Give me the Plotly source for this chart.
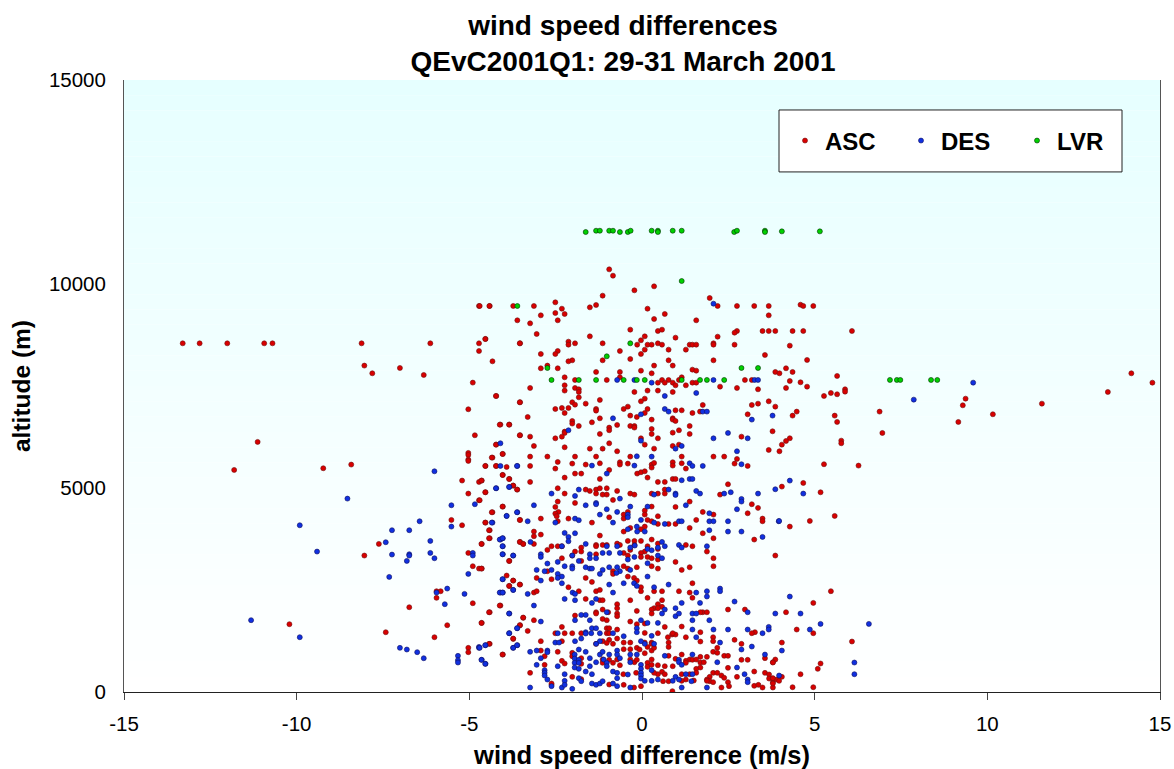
import plotly.graph_objects as go

title_lines = ["wind speed differences", "QEvC2001Q1: 29-31 March 2001"]
x_label = "wind speed difference (m/s)"
y_label = "altitude (m)"
x_ticks = [-15, -10, -5, 0, 5, 10, 15]
x_tick_text = ["-15", "-10", "-5", "0", "5", "10", "15"]
y_ticks = [0, 5000, 10000, 15000]
y_tick_text = ["0", "5000", "10000", "15000"]

lvr_x = [-3.61, -1.63, -1.33, -1.22, -0.95, -0.84, -0.64, -0.41, -0.33, 0.28, 0.46, 0.46, 0.89, 1.15, 2.67, 2.75, 3.56, 3.56, 4.05, 5.15,
         1.15, -0.34, -1.02, 2.88, 3.36, -2.74, -2.62, -1.83, -1.33, -0.53, -0.15, 0.08, 1.15, 1.68, 1.88, 2.38, 7.18, 7.38, 7.48, 8.37, 8.55]
lvr_y = [9461, 11274, 11306, 11306, 11306, 11306, 11274, 11274, 11306, 11306, 11306, 11274, 11306, 11306, 11274, 11306, 11306, 11274, 11290, 11290,
         10073, 8546, 8228, 7942, 7942, 7942, 7648, 7648, 7648, 7648, 7648, 7648, 7648, 7648, 7648, 7648, 7648, 7648, 7648, 7648, 7648]

asc_points = [
(-4.72,9462),(-4.41,9462),(-3.73,9462),(-3.61,9110),(-4.53,8654),(-13.30,8546),(-12.81,8546),(-12.01,8546),(-10.94,8546),(-10.70,8546),(-8.12,8546),(-6.13,8546),(-4.72,8546),(-3.53,8546),
(-4.72,8358),(-4.33,8105),(-8.04,8000),(-7.01,7942),(-7.81,7811),(-6.32,7770),(-4.90,7583),(-4.22,7256),(-3.53,7101),(-5.03,6930),(-4.10,6554),(-3.84,6554),(-4.84,6293),(-3.53,6293),(-11.13,6130),(-4.22,6064),
(-5.03,5860),(-5.03,5811),(-4.03,5835),(-4.33,5745),(-5.03,5696),
(-11.81,5443),(-9.23,5484),(-8.42,5574),(-5.03,5664),(-4.53,5541),(-4.22,5541),(-3.92,5516),(-4.03,5320),(-3.84,5222),(-5.21,5182),(-4.72,5149),(-4.64,5182),(-3.73,5059),(-3.61,4961),(-5.03,4863),(-4.53,4896),(-4.72,4700),(-4.03,4544),(-4.33,4406),(-3.53,4218),(-5.52,4218),(-5.21,4087),(-4.53,4152),(-4.41,3965),(-4.41,3769),(-4.64,3630),(-3.53,3679),(-3.44,3630),(-7.62,3630),(-8.04,3344),(-5.03,3409),(-3.84,3213),(-4.90,3083),(-4.72,3025),(-4.64,3025),(-3.92,2854),(-3.73,2731),(-3.53,2633),(-3.84,2601),(-5.95,2470),(-5.83,2470),(-5.95,2307),(-4.90,2176),(-4.10,2119),(-6.74,2078),(-4.41,1955),(-3.44,1817),(-4.64,1694),(-5.64,1637),(-3.53,1637),(-10.21,1662),(-7.42,1465),(-6.01,1343),(-3.73,1302),(-4.41,1180),(-5.03,1082),(-5.03,976),(-4.03,918),
(-0.95,10359),(-0.84,10204),(0.35,9943),(-0.22,9845),(-1.14,9714),(1.96,9657),(-2.51,9551),(-1.33,9485),(-1.51,9428),(-2.32,9395),(0.16,9395),(-4.70,9461),(-4.42,9461),(-3.13,9461),(2.19,9461),(2.75,9461),(3.25,9461),(3.67,9461),(-2.51,9289),(-2.24,9265),(-2.93,9232),(0.66,9265),(3.67,9232),(0.35,9142),(-2.44,9110),(1.57,9110),(-3.24,9036),(-0.34,8881),(0.46,8848),(0.58,8881),(3.49,8848),(3.67,8848),(3.86,8848),(2.75,8848),(2.68,8807),(-3.05,8775),(-1.51,8717),(0.08,8717),(2.19,8709),(-4.54,8652),(-0.03,8620),(0.97,8685),(-2.13,8587),(-2.13,8513),(-1.94,8546),(-3.54,8546),(-1.14,8546),(-0.14,8513),(0.16,8513),(0.28,8513),(0.46,8546),(0.58,8513),(1.38,8513),(1.46,8513),(1.57,8513),(2.07,8546),(2.07,8513),(2.68,8513),(0.77,8391),(1.27,8391),(0.08,8391),(-0.64,8358),(-0.03,8285),(-2.44,8358),(-2.51,8285),(-2.93,8285),(3.56,8260),(-0.34,8162),(0.77,8130),(2.07,8130),(-1.14,8130),(-2.02,8130),(-2.13,8105),(0.35,8000),(0.89,8000),(-2.74,8000),(-2.93,7934),(-2.44,7934),(1.46,7901),(1.57,7876),(-0.03,7876),(-1.33,7844),(-0.64,7844),(0.28,7811),(3.86,7844),(3.98,7811),(-2.24,7713),(-0.64,7713),(1.15,7713),(-1.94,7648),(-1.02,7648),(0.58,7648),(0.77,7648),(1.07,7648),(2.98,7648),(3.18,7648),(0.46,7582),(0.66,7582),(0.89,7582),(0.97,7517),(1.46,7582),(1.57,7582),(1.27,7517),(-2.24,7517),(-1.94,7452),(-1.83,7419),(-1.83,7354),(-3.24,7452),(2.26,7484),(2.75,7452),(3.36,7419),(-2.24,7387),(0.16,7387),(0.46,7387),(-0.22,7354),(0.89,7354),(-4.23,7256),(-1.22,7158),(0.08,7190),(-0.03,7125),(-3.54,7101),(-2.02,7101),(-1.94,7043),(-1.63,7068),(-1.83,7223),(1.76,7035),(3.18,7035),(3.36,7068),(3.67,7125),(3.86,6994),(-2.51,6937),(-2.32,6962),(-2.13,6962),(-2.24,6839),(-1.33,6937),(-1.33,6896),(-0.41,6994),(-0.53,6937),(0.16,6937),(0.97,6904),(1.15,6904),(0.08,6839),(1.46,6839),(1.68,6872),(3.06,6806),(-0.34,6774),(-0.15,6741),(-3.31,6741),(-1.22,6708),(0.89,6708),(0.89,6676),(0.97,6643),(0.28,6676),(-1.45,6610),(-2.02,6643),(-2.02,6578),(-4.12,6553),(-3.85,6553),(-1.83,6520),(-0.72,6545),(-0.34,6520),(-0.22,6520),(-0.22,6480),(1.38,6520),(0.28,6447),(-0.95,6480),(-0.95,6415),(1.07,6415),(-2.24,6382),(-2.24,6349),(-1.22,6325),(0.28,6325),(0.89,6357),(1.38,6325),(3.78,6390),(-3.54,6292),(-3.24,6259),(-2.32,6259),(-2.51,6218),(0.46,6218),(-0.03,6218),(2.88,6259),(-4.23,6063),(-3.13,6031),(-0.95,6096),(0.08,6063),(0.89,6031),(1.07,6063),(-2.24,5998),(-1.51,5965),(-1.14,5965),(0.35,5965),(-0.72,5900),(3.67,5933),(3.98,5900),(-4.04,5835),(-4.35,5745),(-3.24,5769),(-2.74,5769),(-1.94,5769),(-1.33,5769),(-0.34,5769),(1.15,5769),(2.07,5769),(2.38,5769),(2.75,5712),
(-4.54,5541),(-4.23,5541),(-3.24,5541),(-2.51,5475),(-2.44,5639),(-2.02,5598),(-1.63,5574),(-1.22,5606),(-0.64,5631),(-0.64,5574),(-0.41,5598),(0.28,5574),(0.35,5614),(0.28,5500),(0.89,5631),(0.89,5549),(1.15,5606),(1.27,5475),(2.68,5598),(3.06,5541),
(-4.04,5320),(-3.85,5222),(-4.65,5182),(-3.24,5149),(-3.73,5059),(-3.62,4961),(-4.54,4896),(-4.70,4700),(-2.24,5255),(-1.94,5353),(-1.76,5353),(-1.22,5222),(-0.95,5443),(-0.14,5353),(-0.03,5386),(0.08,5410),(0.16,5255),(0.46,5149),(0.66,5149),(0.89,5222),(0.97,5222),(2.49,5092),
(-2.44,4994),(-2.24,4863),(-1.63,4961),(-1.51,4928),(-1.33,4961),(-1.33,4863),(-1.22,4994),(-1.02,4994),(-1.14,4838),(-1.02,4838),(-0.72,4928),(-0.34,4863),(-0.22,4838),(0.28,4863),(0.46,4863),(0.66,4961),(0.66,4863),(2.26,4838),
(-0.84,4708),(-1.94,4634),(-2.44,4667),(-2.51,4536),(-4.04,4544),(-4.35,4406),(1.38,4667),(0.97,4536),(3.18,4602),(3.36,4512),(3.06,4381),(1.76,4414),(2.07,4348),
(-2.42,4414),(-2.51,4373),(-2.47,4308),(-2.44,4185),(-2.13,4250),(-3.54,4218),(-2.93,4250),(-4.54,4152),(-1.45,4152),(-0.95,4283),(-0.53,4348),(-0.41,4414),(-0.53,4250),(0.08,4446),(0.08,4348),(0.28,4544),(0.46,4308),(0.16,4218),(0.28,4185),(0.46,4120),(0.77,4120),(0.97,4120),(1.57,4218),(3.49,4250),(3.49,4185),
(-4.43,3965),(-4.43,3769),(-4.65,3630),(-3.13,3932),(-2.93,3858),(-3.13,3818),(-3.13,3630),(-3.54,3679),(-3.44,3630),(0.08,4054),(-0.03,3989),(-0.34,4022),(-0.53,3932),(1.38,4022),(1.76,3891),(2.07,3769),(3.25,3736),(3.86,3344),(-1.22,3834),(0.28,3736),(-0.03,3703),(-0.22,3703),(-0.41,3703),
(-2.74,3483),(-2.62,3573),(-2.44,3573),(-2.32,3573),(-1.76,3540),(-1.76,3442),(-1.33,3605),(-1.33,3573),(-1.14,3605),(-1.02,3605),(-0.72,3638),(-0.64,3605),(-0.22,3605),(-0.34,3483),(0.16,3573),(0.08,3442),(-0.03,3409),(0.46,3638),(0.46,3507),(1.27,3605),(1.46,3573),(1.88,3442),(-1.94,3442),(-2.02,3344),(-1.33,3376),(-0.53,3409),(-0.41,3344),(-0.03,3311),(0.16,3311),(0.28,3279),(0.46,3246),(2.07,3279),(0.97,3189),(-3.85,3213),(-2.32,3279),(-1.76,3213),(-4.65,3025),(2.07,3083),(1.38,3058),(1.15,2993),(0.28,3083),(0.46,3025),(-0.53,3083),(-0.41,3025),(-0.15,3058),(-2.74,2960),(-3.05,2797),(-2.62,2764),
(-0.84,2960),(-0.84,2895),(-0.41,2829),(-0.23,2797),(-0.15,2731),(-0.03,2568),(-0.03,2470),(-1.63,2797),(-1.45,2699),(-2.13,2568),(-1.83,2470),(-1.33,2470),(-1.22,2503),(0.35,2470),(0.58,2470),(1.07,2470),(1.46,2666),(1.38,2437),(-3.73,2731),(-3.54,2633),(-3.85,2601),(-3.13,2437),(-3.05,2470),(0.16,2307),(1.46,2307),(-1.63,2282),(-1.22,2250),(-1.14,2250),(-0.34,2250),(-4.12,2119),(-0.72,2152),(-0.72,2054),(-1.14,2021),(-1.33,1955),(-0.15,1988),(-0.72,1923),(-0.98,1955),(0.46,2152),(0.58,2250),(0.58,2087),(0.35,2054),(0.28,2021),(0.46,2054),(1.76,1955),(1.88,1955),(1.69,1955),(2.49,2021),(2.98,2021),(-4.43,1955),(-4.65,1694),(-3.44,1825),(-3.54,1637),(-3.13,1760),(-3.31,1498),(-1.94,1874),(-1.33,1923),(-0.72,1858),(-1.14,1792),(-1.02,1760),(-0.34,1727),(0.28,1923),(-0.15,1662),(0.08,1678),(0.66,1596),(1.15,1604),(0.87,1408),
(-2.32,1596),(-1.02,1563),(-0.95,1563),(-0.72,1531),(0.08,1449),(-2.51,1441),(-2.24,1441),(-2.02,1441),(-1.76,1441),(-1.02,1441),(-0.95,1441),(0.46,1441),(1.27,1343),(1.69,1466),(2.06,1343),(2.06,1245),(3.27,1466),(3.18,1441),(-3.73,1310),(-2.93,1245),(-2.32,1245),(-1.14,1245),(-0.95,1278),(-0.72,1310),(-0.34,1212),(0.08,1212),(0.28,1212),(0.75,1343),(0.77,1212),(0.77,1106),(0.97,1408),(0.89,1441),(1.69,1237),(2.68,1278),(2.88,1180),(2.18,1082),(-4.43,1180),(-4.04,918),(-2.44,984),(-2.93,1016),(-2.02,959),(-2.02,877),(-1.33,1180),(-1.02,1204),(-0.84,1180),(-0.53,1212),(-0.34,1049),(-0.53,1049),(-0.15,1082),(-0.07,1041),(0.16,1106),(0.28,1180),(0.08,951),(0.28,1016),(0.35,1082),(0.77,886),(1.15,918),(0.97,812),(1.38,796),(1.69,861),(1.88,861),(2.06,984),(2.38,886),(2.49,886),(2.18,959),(2.88,788),(3.06,788),(3.56,829),(3.86,796),(3.79,730),(-2.82,877),(-2.82,665),(-3.24,469),
(-2.32,763),(-2.24,698),(-1.76,829),(-1.76,690),(-1.14,796),(-0.95,788),(-1.14,714),(-0.72,796),(-0.84,714),(-0.64,657),(-0.34,796),(-0.22,730),(-0.15,788),(0.16,714),(0.28,796),(0.16,616),(0.28,665),(0.46,657),(0.66,632),(0.89,632),(1.27,763),(1.27,714),(1.46,788),(1.57,796),(1.69,722),(1.79,730),(1.57,567),(1.57,469),(1.69,600),(2.49,592),(3.25,502),(3.56,469),
(-0.54,437),(0.58,494),(0.46,437),(0.35,469),(0.66,437),(1.15,437),(1.38,437),(2.06,469),(2.18,469),(1.96,371),(1.88,306),(1.96,265),(2.30,404),(2.38,347),(2.75,371),(3.68,429),(3.68,330),(3.79,330),(3.79,241),(3.91,306),(3.25,151),(3.37,175),(3.49,110),(3.79,110),
(-2.02,371),(-2.62,175),(-2.62,208),(-1.76,314),(-0.17,469),(0.77,265),(1.27,306),(1.15,273),(1.50,281),(1.88,273),(2.06,241),(2.49,241),(2.30,110),(2.52,143),(-0.95,183),(-0.53,175),(-0.03,143),(-0.23,110),(0.88,20),(0.61,265),
(4.28,8489),(4.78,8138),(4.17,7934),(4.36,7844),(5.65,7746),(4.28,7623),(4.59,7591),(4.17,7452),(4.78,7484),(5.88,7419),(5.88,7362),(5.47,7329),(5.65,7297),(5.27,7256),(4.36,6774),(4.48,6872),(5.58,6774),(5.65,6619),(6.88,6872),(6.96,6349),(4.28,6219),(4.17,6153),(4.05,6063),(5.77,6161),(5.77,6096),(5.27,5582),(6.27,5549),(4.67,5124),(4.05,5034),(5.17,4895),(5.58,4316),(4.86,4193),(4.28,4054),(5.47,2470),(4.96,2184),(4.17,1955),(4.48,1531),(4.96,1441),(4.05,1212),(6.08,1237),(3.79,722),(5.17,698),(5.09,567),(4.59,436),(4.05,371),(3.79,339),(3.97,273),(3.79,208),(4.36,118),(4.96,118),
(9.16,6619),(9.29,7027),(9.37,7190),(10.16,6807),(11.58,7068),(13.49,7354),(14.17,7811),(14.78,7582),(4.59,9493),(4.67,9461),(4.96,9461),(4.36,8848),(4.67,8848),(6.08,8848),
]

des_points = [
(-4.10,6096),(-6.01,5410),(-4.10,5541),(-3.61,5541),(-4.22,4994),(-3.84,5026),(-8.53,4740),(-5.52,4577),(-4.84,4602),(-3.92,4316),(-3.61,4406),(-4.33,4152),(-6.44,4185),(-9.91,4087),(-5.52,4054),(-7.24,3965),(-6.74,3965),(-4.10,3736),(-4.03,3769),(-6.13,3703),(-7.42,3671),(-4.03,3573),(-9.41,3442),(-6.13,3409),(-4.90,3409),(-4.90,3344),(-4.03,3376),(-7.24,3368),(-6.74,3376),(-6.74,3344),(-3.73,3344),(-6.01,3279),(-6.81,3213),(-5.03,2895),(-7.32,2821),(-4.03,2764),(-5.64,2535),(-3.73,2503),(-5.95,2437),(-4.10,2437),(-4.03,2437),(-5.14,2405),(-5.71,2152),(-3.84,1923),(-11.32,1760),(-3.61,1563),(-3.84,1441),(-9.91,1343),(-3.61,1147),(-3.73,1082),(-4.53,1147),(-4.72,1106),(-4.72,1082),(-7.01,1082),(-6.81,1041),(-6.51,976),(-6.32,828),(-5.33,886),(-5.33,780),(-5.33,722),(-4.64,788),(-4.53,690),
(2.07,9518),(-0.72,7648),(-0.22,7648),(0.28,7582),(2.07,7648),(3.26,7648),(3.36,7648),(1.57,7329),(0.66,7256),(0.66,6937),(0.77,6872),(1.76,6872),(1.88,6872),(-0.03,6806),(-0.84,6708),(3.18,6676),(3.78,6774),(-2.13,6415),(2.49,6349),(2.07,6218),(3.06,6218),(-0.03,6161),(1.15,6031),(0.97,5965),(2.75,5900),(-0.15,5777),(0.28,5769),
(-3.62,5541),(-1.45,5549),(-0.22,5549),(1.38,5606),(1.46,5541),(1.76,5541),(2.88,5582),(-1.02,5353),(1.15,5190),(1.38,5222),(1.46,5222),
(-4.23,4994),(-3.85,5026),(-2.62,4863),(-1.94,4806),(-1.83,4961),(0.35,4838),(0.77,4961),(0.97,4863),(0.97,4830),(1.57,4928),(1.68,4863),(2.38,4863),(2.57,4896),(3.36,4863),(3.86,4969),(2.88,4732),(2.88,4667),(-0.64,4740),(-3.13,4577),(-1.63,4577),(-1.33,4634),(-1.33,4602),(-1.02,4479),(-0.72,4414),(-0.34,4544),(0.16,4544),(1.27,4577),(2.75,4479),(1.95,4381),(-3.62,4406),(-3.92,4316),(-4.35,4152),(-3.31,4185),(-1.22,4348),(-0.41,4348),(-0.41,4283),(-1.94,4250),(-1.83,4210),(-2.51,4152),(-0.84,4152),(-0.03,4218),(0.35,4152),(0.66,4120),(1.07,4185),(1.15,4185),(1.95,4185),(2.07,4185),(2.49,4185),(3.96,4185),
(-0.15,4054),(-0.41,3989),(-0.14,3932),(0.08,3932),(1.95,3965),(2.49,3932),(2.88,3932),(-2.24,3900),(-1.94,3891),(-2.13,3801),(-2.13,3695),(-4.12,3736),(-4.04,3769),(-4.04,3573),(-3.23,3679),(3.49,3801),(-1.63,3630),(0.58,3679),(0.66,3573),(1.07,3605),(1.15,3540),(1.88,3573),(-4.04,3376),(-3.73,3344),(-2.93,3376),(-2.93,3311),(-2.32,3573),(-1.02,3573),(-0.72,3573),(-0.34,3540),(-0.21,3589),(-1.14,3409),(-0.95,3409),(-1.51,3376),(-0.64,3409),(0.16,3507),(0.28,3475),(0.46,3344),(0.46,3540),(-2.02,3344),(-1.83,3213),(-1.51,3279),(-1.33,3279),(-0.41,3246),(-0.22,3311),(0.58,3279),(-2.74,3148),(-2.44,3189),(-2.24,3083),(-2.02,3083),(-2.02,3025),(-3.05,2993),(-2.82,2960),(-2.62,2993),(-2.44,2895),(-2.32,2829),(-2.44,2797),(-2.32,2666),(-2.93,2731),(-1.63,3058),(-1.51,3025),(-1.45,3025),(-1.14,2993),(-0.72,3058),(-0.95,3058),(-0.64,2960),(-0.34,2993),(-0.74,2919),(0.16,3156),(0.16,2829),(-1.22,2895),(-4.04,2764),(-3.73,2503),(-4.12,2437),(-4.04,2437),(-3.31,2405),(-0.95,2633),(-0.53,2666),(-0.23,2666),(-0.15,2601),(0.35,2568),(0.77,2633),(-2.01,2437),(-1.94,2405),(-0.84,2437),(2.26,2535),(2.26,2470),(1.88,2470),(1.88,2340),(1.57,2437),(-2.24,2282),(-1.94,2250),(-1.33,2282),(-1.45,2184),(-3.13,2119),(1.15,2184),(1.68,2184),(2.68,2217),(-3.85,1923),(0.66,2021),(0.58,1923),(0.97,2054),(0.97,1858),(1.07,1923),(1.46,1923),(1.57,1923),(1.95,1760),(3.06,1955),(3.86,1923),(-1.02,1955),(-1.76,1890),(-1.63,1890),(-1.94,1760),(-1.51,1760),(0.16,1694),(-0.03,1760),(1.46,1760),(0.46,1694),(-2.93,1727),(-3.62,1563),(-3.85,1441),(1.46,1531),(2.07,1531),(2.49,1531),(3.06,1531),(3.67,1596),(3.67,1531),(3.49,1441),(-0.15,1563),(-0.15,1466),(-1.45,1563),(-1.33,1563),(-1.63,1466),(-1.63,1433),(-1.47,1441),(-1.22,1441),(-0.84,1441),(-2.44,1441),(-0.53,1368),(0.28,1376),(1.57,1343),(-2.51,1212),(-2.40,1212),(-1.94,1245),(-1.76,1310),(-1.22,1245),(-1.33,1180),(-0.03,1245),(0.08,1180),(0.35,1180),(2.26,1212),(2.88,1041),(3.18,1114),(-3.73,1082),(-3.62,1147),(-4.54,1147),(-4.70,1082),(-4.65,788),(-4.54,690),(-3.24,984),(-3.05,1016),(-2.74,1016),(-2.74,976),(-2.93,829),(-3.05,665),(-1.83,1041),(-1.63,984),(-1.95,918),(-1.22,918),(-1.14,984),(-0.95,918),(-0.72,1016),(-0.72,918),(-0.34,918),(-0.15,918),(0.66,886),(1.46,918),(3.56,918),(-1.95,820),(-1.83,788),(-1.51,829),(-1.33,730),(-1.95,714),(-1.83,714),(-1.11,796),(-1.02,714),(-1.02,632),(-0.64,829),(-0.34,730),(-0.03,665),(1.07,788),(1.07,730),(1.15,665),(2.18,730),(2.75,600),(2.97,437),(-2.44,632),(-1.95,600),(-1.83,567),(-1.51,632),(-1.63,502),(-1.45,437),(-0.84,502),(-0.72,469),(-0.41,429),(-0.03,567),(-0.03,469),(-0.03,404),(-0.03,330),(0.28,535),(-2.82,535),(-2.82,469),(-2.82,404),(-2.74,306),(-2.24,437),(-2.24,273),(-1.83,339),(-1.76,265),(-0.72,339),(0.08,273),(0.28,273),(0.46,306),(0.97,371),(1.07,306),(0.89,273),(1.27,437),(1.46,437),(3.06,306),(3.06,241),(-1.45,208),(-1.33,175),(-1.22,208),(-1.14,265),(-0.84,208),(-0.72,143),(-0.34,110),(-3.24,110),(-2.62,143),(-2.32,110),(-2.24,175),(-2.02,77),(1.15,110),(1.88,110),(1.43,265),
(9.59,7582),(7.87,7166),(4.28,5181),(4.67,4863),(3.97,4193),(4.28,2339),(4.59,1923),(5.17,1669),(4.86,1531),(6.57,1669),(4.05,1016),(6.15,722),(6.15,436),(3.97,404),
]

asc_x, asc_y = zip(*asc_points)
des_x, des_y = zip(*des_points)

FONT = "Liberation Sans, Arial, sans-serif"

def series(name, xs, ys, fill, edge):
    return go.Scatter(x=xs, y=ys, mode="markers", name=name,
                      marker=dict(size=5, color=fill, line=dict(color=edge, width=0.6)))

fig = go.Figure()
fig.add_trace(series("ASC", asc_x, asc_y, "#D80000", "#701010"))
fig.add_trace(series("DES", des_x, des_y, "#1030E0", "#101060"))
fig.add_trace(series("LVR", lvr_x, lvr_y, "#00D000", "#003000"))

# vertical background gradient (pale cyan at the top fading to white)
bands = 40
shapes = []
for i in range(bands):
    t = (i + 0.5) / bands
    r = round(255 - (255 - 230) * t)
    shapes.append(dict(type="rect", xref="paper", yref="paper", x0=0, x1=1,
                       y0=i / bands, y1=(i + 1) / bands, layer="below",
                       fillcolor=f"rgb({r},255,255)", line_width=0))
# legend frame
shapes.append(dict(type="rect", xref="paper", yref="paper",
                   x0=(779 - 124) / 1036, x1=(1122 - 124) / 1036,
                   y0=(692.5 - 172) / 612.5, y1=(692.5 - 110) / 612.5,
                   layer="below", fillcolor="white", line=dict(color="#222222", width=1)))

fig.update_layout(
    width=1174, height=769, autosize=False,
    margin=dict(l=124, r=14, t=80, b=76.5, pad=0, autoexpand=False),
    paper_bgcolor="white", plot_bgcolor="white",
    font=dict(family=FONT, color="black"),
    shapes=shapes,
    title=dict(text="<br>".join(title_lines), x=(623 / 1174), xanchor="center",
               y=0.9545, yanchor="middle", font=dict(size=28, family=FONT, color="black", weight="bold")),
    legend=dict(orientation="h", x=(785 - 124) / 1036, y=(692.5 - 141) / 612.5, xanchor="left", yanchor="middle",
                bgcolor="rgba(0,0,0,0)", borderwidth=0, entrywidth=71, entrywidthmode="pixels", itemwidth=30,
                font=dict(size=24, family=FONT, color="black", weight="bold"), traceorder="normal"),
    xaxis=dict(range=[-15, 15], tickvals=x_ticks, ticktext=x_tick_text, ticks="outside", ticklen=7, tickcolor="#444444",
               ticklabelstandoff=6,
               showgrid=False, zeroline=False, showline=True, linecolor="#222222", linewidth=1, mirror=False,
               tickfont=dict(size=20.5), title=dict(text=x_label, standoff=15, font=dict(size=25.5, weight="bold"))),
    yaxis=dict(range=[0, 15000], tickvals=y_ticks, ticktext=y_tick_text, ticks="", showgrid=False, zeroline=False, showline=True,
               ticklabelstandoff=13,
               linecolor="#555555", linewidth=1, mirror=True, tickfont=dict(size=20.5),
               title=dict(text=y_label, standoff=11, font=dict(size=24.5, weight="bold"))),
)
fig.write_html("out.html", config={"displayModeBar": False}, post_script="document.body.style.margin='0';document.body.style.overflow='hidden';")
